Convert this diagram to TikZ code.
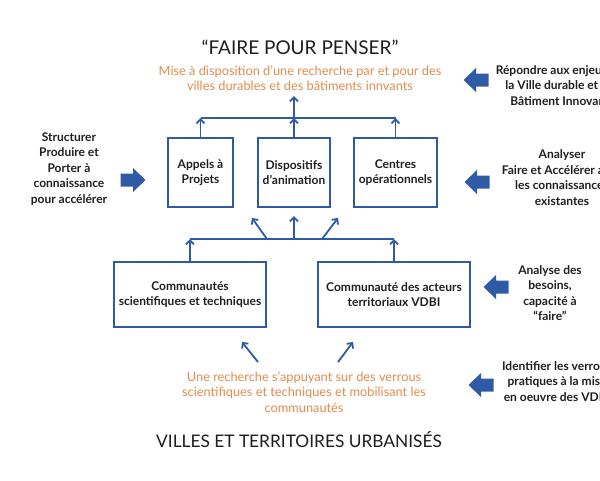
\documentclass[tikz,border=0pt]{standalone}
\usepackage{fontspec}
\setmainfont{Lato}
\usetikzlibrary{arrows.meta}
\definecolor{bl}{HTML}{2F5AA6}
\definecolor{or}{HTML}{E38A4C}
\definecolor{tx}{HTML}{1E1E1E}
\newcommand\blockarrow[3]{% x y dir(1 right,-1 left)
 \fill[bl,shift={(#1,#2)},xscale=#3] (-12.5,-6.5) -- (0,-6.5) -- (0,-12) -- (12.5,0) -- (0,12) -- (0,6.5) -- (-12.5,6.5) -- cycle;}
\begin{document}
\begin{tikzpicture}[x=1pt,y=-1pt,
 box/.style={draw=bl,line width=1.5pt,inner sep=0pt,font=\fontsize{12}{15.5}\selectfont\bfseries,text=tx,align=center},
 lab/.style={font=\fontsize{12}{15.5}\selectfont\bfseries,text=tx,align=center},
 otx/.style={font=\fontsize{12.8}{15.5}\selectfont,text=or,align=center},
 ttl/.style={font=\fontsize{19}{22}\selectfont,text=tx},
 con/.style={draw=bl,line width=1.8pt},
 arr/.style={con,-{Straight Barb[length=4pt,width=8pt]}}]
\useasboundingbox (0,0) rectangle (600,480);
\clip (0,0) rectangle (600,480);
\node[ttl] (t1) at (300,47) {“FAIRE POUR PENSER”};
\node[otx] (o1) at (300,78) {Mise à disposition d’une recherche par et pour des\\villes durables et des bâtiments innvants};
\node[box,minimum width=65pt,minimum height=69pt] (b1) at (200.5,172.5) {Appels à\\Projets};
\node[box,minimum width=72pt,minimum height=69pt] (b2) at (294,172.5) {Dispositifs\\d’animation};
\node[box,minimum width=83pt,minimum height=69pt] (b3) at (395.5,172.5) {Centres\\opérationnels};
\coordinate (u1) at (200.5,118); \coordinate (u2) at (294,118); \coordinate (u3) at (395.5,118);
\coordinate (top) at (294,96);
\draw[con] (u1) -- (u3);
\draw[arr] (b1.north) -- (u1); \draw[arr] (b2.north) -- (u2); \draw[arr] (b3.north) -- (u3);
\draw[arr] (u2) -- (top);
\node[box,minimum width=152pt,minimum height=65pt] (b4) at (190,294.5) {Communautés\\scientifiques et techniques};
\node[box,minimum width=152pt,minimum height=65pt] (b5) at (394,294.5) {Communauté des acteurs\\territoriaux VDBI};
\coordinate (l1) at (190,239); \coordinate (l2) at (394,239);
\coordinate (j1) at (267,239); \coordinate (j2) at (294,239); \coordinate (j3) at (322,239);
\coordinate (k1) at (252,218); \coordinate (k2) at (294,216); \coordinate (k3) at (338,218);
\draw[con] (l1) -- (l2);
\draw[arr] (b4.north) -- (l1); \draw[arr] (b5.north) -- (l2);
\draw[arr] (j1) -- (k1); \draw[arr] (j2) -- (k2); \draw[arr] (j3) -- (k3);
\node[otx] (o2) at (304,392) {Une recherche s’appuyant sur des verrous\\scientifiques et techniques et mobilisant les\\communautés};
\coordinate (d1) at (258,362); \coordinate (d2) at (242,342);
\coordinate (d3) at (338,362); \coordinate (d4) at (353,342);
\draw[arr] (d1) -- (d2); \draw[arr] (d3) -- (d4);
\node[ttl,font=\fontsize{17.3}{20}\selectfont] (t2) at (299,440) {VILLES ET TERRITOIRES URBANISÉS};
\node[lab] (L1) at (69,169) {Structurer\\Produire et\\Porter à\\connaissance\\pour accélérer};
\blockarrow{133}{180}{1}
\node[lab] (R1) at (560,85.5) {Répondre aux enjeux de\\la Ville durable et du\\Bâtiment Innovant};
\blockarrow{476}{80}{-1}
\node[lab] (R2) at (562,177.5) {Analyser\\Faire et Accélérer avec\\les connaissances\\existantes};
\blockarrow{477}{182}{-1}
\node[lab] (R3) at (550,293) {Analyse des\\besoins,\\capacité à\\“faire”};
\blockarrow{496}{287}{-1}
\node[lab] (R4) at (557,381.5) {Identifier les verrous\\pratiques à la mise\\en oeuvre des VDBI};
\blockarrow{481}{385}{-1}
\end{tikzpicture}
\end{document}
